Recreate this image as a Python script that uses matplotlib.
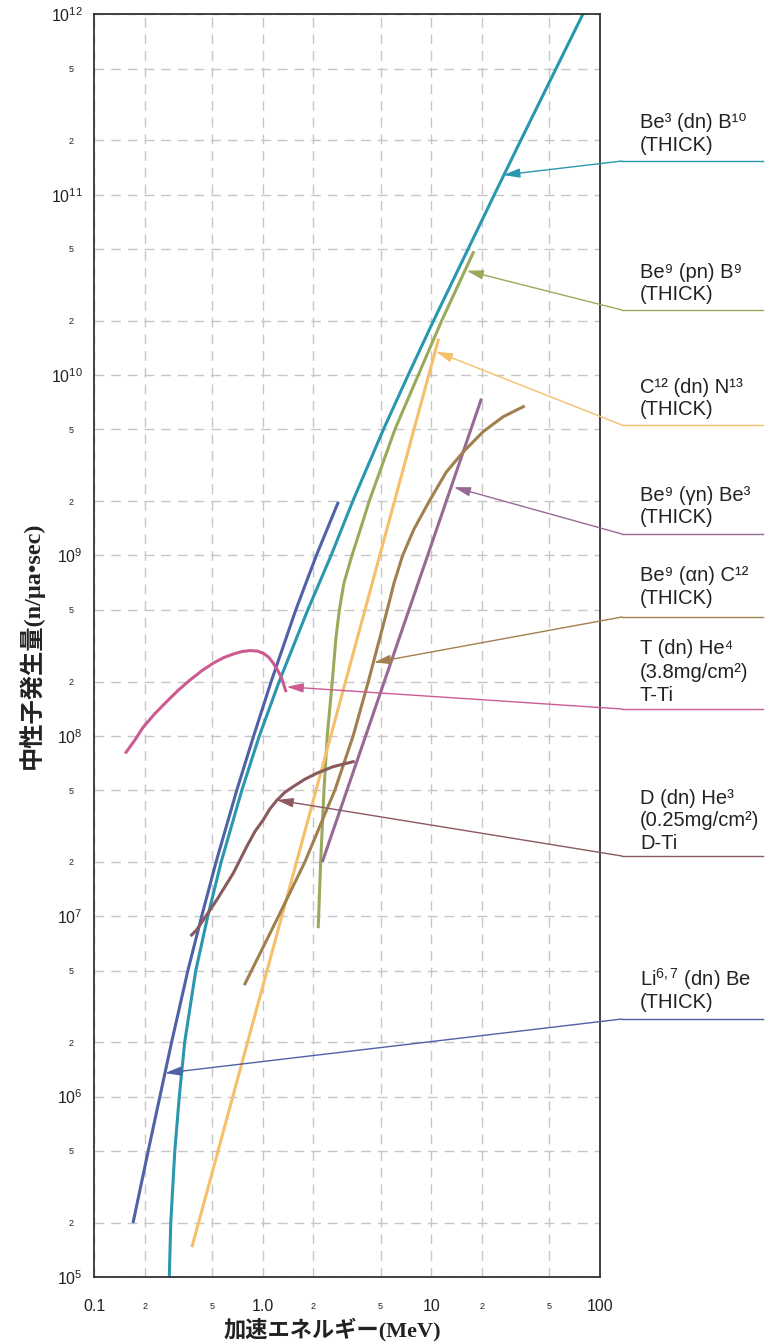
import numpy as np
import matplotlib as mpl
mpl.use('Agg')
import matplotlib.pyplot as plt
from matplotlib.lines import Line2D
from matplotlib.ticker import FixedLocator, FixedFormatter

plt.rcParams['font.family'] = ['Liberation Sans', 'DejaVu Sans']
plt.rcParams['mathtext.fontset'] = 'custom'
plt.rcParams['mathtext.rm'] = 'Liberation Sans'
plt.rcParams['mathtext.it'] = 'Liberation Sans:italic'
plt.rcParams['mathtext.bf'] = 'Liberation Sans:bold'
plt.rcParams['lines.scale_dashes'] = False

# ---- data ----
li_x = [0.171, 0.2096, 0.2458, 0.2884, 0.3602, 0.4349, 0.5294, 0.7024, 0.8845, 1.123, 1.573, 2.081, 2.791]
li_y = [2.03e5, 5e5, 1e6, 2e6, 5e6, 1e7, 2e7, 5e7, 1e8, 2e8, 5e8, 1e9, 1.95e9]

be_dn_x = [0.2795, 0.2852, 0.3013, 0.3204, 0.3448, 0.4012, 0.4727, 0.5675, 0.7527, 0.9559, 1.2524,
           1.853, 2.544, 3.421, 5.201, 7.288, 10.30, 16.52, 23.63, 33.89, 54.86, 79.07]
be_dn_y = [1e5, 2e5, 5e5, 1e6, 2e6, 5e6, 1e7, 2e7, 5e7, 1e8, 2e8,
           5e8, 1e9, 2e9, 5e9, 1e10, 2e10, 5e10, 1e11, 2e11, 5e11, 1e12]

be_pn_x = [2.136, 2.207, 2.309, 2.415, 2.586, 2.72, 2.85, 3.03, 3.383, 3.80, 4.283, 6.084, 8.363, 11.51, 17.72]
be_pn_y = [8.75e6, 2e7, 5e7, 1e8, 2e8, 3.5e8, 5e8, 7e8, 1e9, 1.4e9, 2e9, 5e9, 1e10, 2e10, 4.77e10]

c_dn_x = [0.3826, 2.535, 10.99]
c_dn_y = [1.49e5, 1e8, 1.565e10]

be_gn_x = [2.27, 9.51, 19.7]
be_gn_y = [2.03e7, 1e9, 7.28e9]

be_an_x = [0.785, 1.241, 1.78, 2.68, 3.44, 4.23, 5.48, 6.0, 6.76, 7.89, 9.81, 12.3, 15.5, 20.3, 26.7, 35.1]
be_an_y = [4.22e6, 1e7, 2e7, 5e7, 1e8, 2e8, 5e8, 7e8, 1e9, 1.4e9, 2.03e9, 2.91e9, 3.76e9, 4.86e9, 5.88e9, 6.68e9]

t_dn_x = [0.155, 0.175, 0.196, 0.230, 0.270, 0.318, 0.371, 0.437, 0.510, 0.585, 0.669, 0.750,
          0.841, 0.930, 1.008, 1.085, 1.156, 1.230, 1.296, 1.369]
t_dn_y = [8.11e7, 9.5e7, 1.12e8, 1.33e8, 1.55e8, 1.80e8, 2.04e8, 2.30e8, 2.53e8, 2.71e8, 2.84e8, 2.93e8,
          2.97e8, 2.95e8, 2.87e8, 2.73e8, 2.53e8, 2.30e8, 2.09e8, 1.78e8]

d_dn_x = [0.379, 0.406, 0.534, 0.669, 0.804, 0.90, 1.008, 1.10, 1.21, 1.35, 1.518, 1.78, 2.09, 2.62, 3.44]
d_dn_y = [7.87e6, 8.4e6, 1.23e7, 1.73e7, 2.43e7, 2.95e7, 3.42e7, 3.92e7, 4.38e7, 4.85e7, 5.23e7, 5.75e7, 6.2e7, 6.75e7, 7.19e7]

# arrow tips on the curves
tip_x = [26.7, 16.2, 10.65, 13.6, 4.57, 1.388, 1.21, 0.2636]
tip_y = [1.285e11, 3.79e10, 1.35e10, 2.39e9, 2.55e8, 1.87e8, 4.41e7, 1.35e6]

labels = [
    ['Be³ (dn) B¹⁰', '(THICK)'],
    ['Be⁹ (pn) B⁹', '(THICK)'],
    ['C¹² (dn) N¹³', '(THICK)'],
    ['Be⁹ (γn) Be³', '(THICK)'],
    ['Be⁹ (αn) C¹²', '(THICK)'],
    ['T (dn) He⁴', '(3.8mg/cm²)', 'T-Ti'],
    ['D (dn) He³', '(0.25mg/cm²)', 'D-Ti'],
    [r'Li$^{6,7}$ (dn) Be', '(THICK)'],
]

x_major = [0.1, 1, 10, 100]
x_major_labels = ['0.1', '1.0', '10', '100']
x_minor = [0.2, 0.5, 2, 5, 20, 50]
x_minor_labels = ['2', '5', '2', '5', '2', '5']
y_exp = [5, 6, 7, 8, 9, 10, 11, 12]

# ---- layout ----
W, H = 773, 1344
col_teal = '#2a97ae'
col_green = '#99ab5b'
col_orange = '#f5bf6b'
col_purple = '#976a96'
col_brown = '#a1804f'
col_pink = '#cc5b92'
col_d = '#8a5a5e'
col_blue = '#4f62a8'
colors = [col_teal, col_green, col_orange, col_purple, col_brown, col_pink, col_d, col_blue]

leader_y = [161, 310, 425, 534, 617, 709, 856, 1019]
text_base = [[128, 151], [278, 300], [393, 415], [501, 523], [581, 604],
             [654, 677.5, 701], [804, 826.5, 849], [986, 1008]]

fig = plt.figure(figsize=(W / 100, H / 100), dpi=100)
ax = fig.add_axes([94 / W, 1 - 1277 / H, 506 / W, (1277 - 14.3) / H])
ax.set_xscale('log')
ax.set_yscale('log')
ax.set_xlim(0.1, 100)
ax.set_ylim(1e5, 1e12)

ax.xaxis.set_major_locator(FixedLocator(x_major))
ax.xaxis.set_major_formatter(FixedFormatter(x_major_labels))
ax.xaxis.set_minor_locator(FixedLocator(x_minor))
ax.xaxis.set_minor_formatter(FixedFormatter(x_minor_labels))

y_major = [10.0 ** e for e in y_exp]
y_minor = []
y_minor_labels = []
for e in y_exp[:-1]:
    y_minor += [2 * 10.0 ** e, 5 * 10.0 ** e]
    y_minor_labels += ['2', '5']
ax.yaxis.set_major_locator(FixedLocator(y_major))
ax.yaxis.set_major_formatter(FixedFormatter([r'$\mathregular{10^{%d}}$' % e for e in y_exp]))
ax.yaxis.set_minor_locator(FixedLocator(y_minor))
ax.yaxis.set_minor_formatter(FixedFormatter(y_minor_labels))

ax.tick_params(which='both', length=0, colors='#222222')
ax.tick_params(axis='x', which='major', labelsize=11.5, pad=16)
ax.tick_params(axis='x', which='minor', labelsize=6.5, pad=18)
ax.tick_params(axis='y', which='major', labelsize=11.5, pad=8)
ax.tick_params(axis='y', which='minor', labelsize=6.5, pad=15)

ax.grid(which='both', color='#c6c6c6', lw=1.0, linestyle=(0, (7, 5)))
for s in ax.spines.values():
    s.set_color('#333333')
    s.set_linewidth(1.3)

lw = 2.2
ax.plot(be_dn_x, be_dn_y, color=col_teal, lw=lw)
ax.plot(li_x, li_y, color=col_blue, lw=lw)
ax.plot(be_pn_x, be_pn_y, color=col_green, lw=lw)
ax.plot(c_dn_x, c_dn_y, color=col_orange, lw=lw)
ax.plot(be_gn_x, be_gn_y, color=col_purple, lw=lw)
ax.plot(be_an_x, be_an_y, color=col_brown, lw=lw)
ax.plot(t_dn_x, t_dn_y, color=col_pink, lw=lw)
ax.plot(d_dn_x, d_dn_y, color=col_d, lw=lw)

# leader lines with arrows and labels on the right
for i in range(len(labels)):
    c = colors[i]
    yf = 1 - leader_y[i] / H
    ax.annotate('', xy=(tip_x[i], tip_y[i]), xycoords='data',
                xytext=(622 / W, yf), textcoords='figure fraction',
                arrowprops=dict(arrowstyle='-|>,head_length=1.0,head_width=0.28',
                                mutation_scale=10, color=c, lw=1.0,
                                shrinkA=0, shrinkB=0),
                annotation_clip=False)
    fig.add_artist(Line2D([622 / W, 763 / W], [yf, yf], color=c, lw=1.0))
    for j, line in enumerate(labels[i]):
        fig.text(640 / W, 1 - text_base[i][j] / H, line, fontsize=14.5,
                 color='#222222', ha='left', va='baseline')

jp = ['Liberation Serif', 'Noto Sans CJK JP']
fig.text(332 / W, 1 - 1330 / H, '加速エネルギー(MeV)', fontsize=16, fontweight='bold',
         family=jp, ha='center', va='center', color='#222222')
fig.text(31 / W, 1 - 645 / H, '中性子発生量(n/μa•sec)', fontsize=17.5, fontweight='bold',
         family=jp, ha='center', va='center', rotation=90, color='#222222')

plt.savefig('out.png', dpi=100)
plt.close()
